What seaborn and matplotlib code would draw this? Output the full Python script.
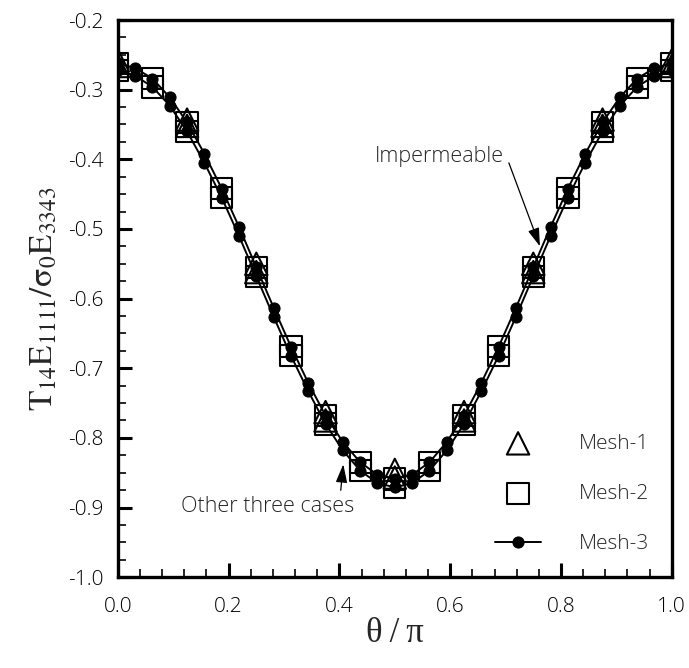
import numpy as np
import pandas as pd
import seaborn as sns
import matplotlib.pyplot as plt
from matplotlib.ticker import MultipleLocator

# theta / pi positions of the three meshes
x_mesh1 = [0.0, 0.125, 0.25, 0.375, 0.5, 0.625, 0.75, 0.875, 1.0]
x_mesh2 = [0.0, 0.0625, 0.125, 0.1875, 0.25, 0.3125, 0.375, 0.4375, 0.5,
           0.5625, 0.625, 0.6875, 0.75, 0.8125, 0.875, 0.9375, 1.0]
x_mesh3 = [0.0, 0.03125, 0.0625, 0.09375, 0.125, 0.15625, 0.1875, 0.21875,
           0.25, 0.28125, 0.3125, 0.34375, 0.375, 0.40625, 0.4375, 0.46875,
           0.5, 0.53125, 0.5625, 0.59375, 0.625, 0.65625, 0.6875, 0.71875,
           0.75, 0.78125, 0.8125, 0.84375, 0.875, 0.90625, 0.9375, 0.96875, 1.0]

# Mesh-1 (triangles)
mesh1_imp = [-0.258, -0.343, -0.550, -0.763, -0.846, -0.763, -0.550, -0.343, -0.258]
mesh1_oth = [-0.266, -0.352, -0.562, -0.775, -0.857, -0.775, -0.562, -0.352, -0.266]

# Mesh-2 (squares)
mesh2_imp = [-0.262, -0.284, -0.347, -0.442, -0.555, -0.669, -0.768, -0.835, -0.859,
             -0.835, -0.768, -0.669, -0.555, -0.442, -0.347, -0.284, -0.262]
mesh2_oth = [-0.272, -0.296, -0.360, -0.455, -0.568, -0.682, -0.780, -0.847, -0.871,
             -0.847, -0.780, -0.682, -0.568, -0.455, -0.360, -0.296, -0.272]

# Mesh-3 (dots + line)
mesh3_imp = [-0.262, -0.269, -0.284, -0.311, -0.347, -0.392, -0.442, -0.497,
             -0.555, -0.613, -0.669, -0.721, -0.768, -0.806, -0.835, -0.853,
             -0.859, -0.853, -0.835, -0.806, -0.768, -0.721, -0.669, -0.613,
             -0.555, -0.497, -0.442, -0.392, -0.347, -0.311, -0.284, -0.269, -0.262]
mesh3_oth = [-0.272, -0.280, -0.296, -0.323, -0.360, -0.405, -0.455, -0.510,
             -0.568, -0.626, -0.682, -0.733, -0.780, -0.818, -0.847, -0.865,
             -0.871, -0.865, -0.847, -0.818, -0.780, -0.733, -0.682, -0.626,
             -0.568, -0.510, -0.455, -0.405, -0.360, -0.323, -0.296, -0.280, -0.272]

sns.set_theme(style='ticks')
plt.rcParams['font.family'] = ['Open Sans', 'DejaVu Sans']
plt.rcParams['font.weight'] = 'light'
plt.rcParams['mathtext.fontset'] = 'stix'
plt.rcParams['axes.unicode_minus'] = False

fig, ax = plt.subplots(figsize=(6.89, 6.68), dpi=100)
fig.subplots_adjust(left=0.171, right=0.975, bottom=0.136, top=0.970)

# open markers for the two coarse meshes
for ys, lab in [(mesh1_imp, 'Mesh-1'), (mesh1_oth, None)]:
    sns.scatterplot(x=x_mesh1, y=ys, marker='^', s=260, facecolor='none',
                    edgecolor='black', linewidth=1.5, ax=ax, label=lab, zorder=3)
for ys, lab in [(mesh2_imp, 'Mesh-2'), (mesh2_oth, None)]:
    sns.scatterplot(x=x_mesh2, y=ys, marker='s', s=235, facecolor='none',
                    edgecolor='black', linewidth=1.5, ax=ax, label=lab, zorder=3)
for ys, lab in [(mesh3_imp, 'Mesh-3'), (mesh3_oth, None)]:
    sns.lineplot(x=x_mesh3, y=ys, color='black', marker='o', markersize=8,
                 markeredgecolor='black', linewidth=1.4, sort=False,
                 estimator=None, ax=ax, label=lab, zorder=4)

ax.set_xlim(0, 1.0)
ax.set_ylim(-1.0, -0.2)
ax.xaxis.set_major_locator(MultipleLocator(0.2))
ax.xaxis.set_minor_locator(MultipleLocator(0.04))
ax.yaxis.set_major_locator(MultipleLocator(0.1))
ax.yaxis.set_minor_locator(MultipleLocator(0.025))
ax.xaxis.set_major_formatter(plt.FormatStrFormatter('%.1f'))
ax.yaxis.set_major_formatter(plt.FormatStrFormatter('%.1f'))
ax.tick_params(which='major', direction='in', length=10, width=2.2,
               labelsize=15, pad=10, top=False, right=False, colors='black')
ax.tick_params(which='minor', direction='in', length=6, width=1.4,
               top=False, right=False)
ax.tick_params(axis='x', which='major', pad=14)
for sp in ax.spines.values():
    sp.set_linewidth(2.4)
    sp.set_color('black')

ax.set_xlabel('θ\u2009/\u2009π', fontsize=25, family=['Liberation Serif', 'DejaVu Serif'],
              labelpad=0)
ax.set_ylabel(r'$\mathrm{T_{14}E_{1111}/\sigma_0E_{3343}}$', fontsize=24, labelpad=6)

ax.annotate('Impermeable', xy=(0.762, -0.525), xytext=(0.58, -0.396),
            fontsize=15.5, ha='center', va='center',
            arrowprops=dict(arrowstyle='-|>,head_width=0.22,head_length=0.7',
                            color='black', lw=0.9, relpos=(1.04, 0.2),
                            shrinkA=0, shrinkB=0, mutation_scale=16))
ax.annotate('Other three cases', xy=(0.407, -0.838), xytext=(0.27, -0.899),
            fontsize=15.5, ha='center', va='center',
            arrowprops=dict(arrowstyle='-|>,head_width=0.22,head_length=0.7',
                            color='black', lw=0.9, relpos=(0.92, 1.0),
                            shrinkA=2, shrinkB=0, mutation_scale=16))

leg = ax.legend(loc='lower right', frameon=False, fontsize=15,
                handlelength=2.2, handletextpad=1.8, labelspacing=1.45,
                borderaxespad=0.7)

plt.savefig('out.png', dpi=100)
